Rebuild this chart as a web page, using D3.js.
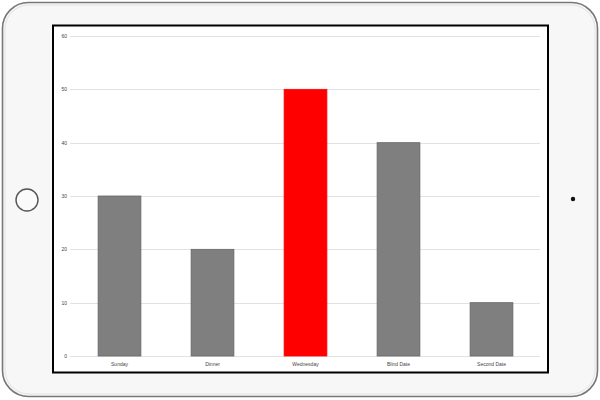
<!DOCTYPE html>
<html lang="en">

<head>
    <meta charset="UTF-8">
    <title>d3</title>
    <script src="https://cdn.jsdelivr.net/npm/d3@7/dist/d3.min.js"></script>
    <style>
        body {
            margin: 0;
            background: #fff;
        }

        .grid line {
            stroke: #e2e2e2;
            shape-rendering: crispEdges;
        }

        .grid path {
            display: none;
        }

        .axis text {
            font-family: "Liberation Sans", sans-serif;
            font-size: 5px;
            fill: #444;
        }

        .axis path,
        .axis line {
            display: none;
        }
    </style>
</head>

<body>
</body>

<script>
    const width = 600
    const height = 400

    // data
    const categories = ['Sunday', 'Dinner', 'Wednesday', 'Blind Date', 'Second Date']
    const values = [30, 20, 50, 40, 10]
    const highlight = 'Wednesday'
    const yTicks = [0, 10, 20, 30, 40, 50, 60]

    const svg = d3.select('body').append('svg').attr('width', width).attr('height', height)

    // tablet frame
    svg.append('rect')
        .attr('x', 2.5).attr('y', 2.5)
        .attr('width', 595).attr('height', 394)
        .attr('rx', 26)
        .attr('fill', '#f7f7f7')
        .attr('stroke', '#777')
        .attr('stroke-width', 1.6)
    svg.append('rect')
        .attr('x', 5).attr('y', 5)
        .attr('width', 590).attr('height', 389)
        .attr('rx', 24)
        .attr('fill', 'none')
        .attr('stroke', '#e2e2e2')
        .attr('stroke-width', 1)

    // home button + camera
    svg.append('circle')
        .attr('cx', 27).attr('cy', 200).attr('r', 11)
        .attr('fill', '#fafafa')
        .attr('stroke', '#555')
        .attr('stroke-width', 1.4)
    svg.append('circle')
        .attr('cx', 573).attr('cy', 199).attr('r', 2.2)
        .attr('fill', '#111')

    // screen
    svg.append('rect')
        .attr('x', 53).attr('y', 25.5)
        .attr('width', 495).attr('height', 347)
        .attr('fill', '#fff')
        .attr('stroke', '#000')
        .attr('stroke-width', 2)

    const margin = { left: 70, right: 540, top: 36, bottom: 356 }

    const x = d3.scaleBand()
        .domain(categories)
        .range([73, 538])
        .paddingInner(0.54)
        .paddingOuter(0.27)

    const y = d3.scaleLinear()
        .domain([0, 60])
        .range([margin.bottom, margin.top])

    svg.append('g')
        .attr('class', 'grid')
        .attr('transform', 'translate(' + margin.left + ',0)')
        .call(d3.axisLeft(y).tickValues(yTicks).tickSize(-(margin.right - margin.left)).tickFormat(''))

    svg.append('g')
        .attr('class', 'axis')
        .attr('transform', 'translate(' + (margin.left - 3) + ',0)')
        .call(d3.axisLeft(y).tickValues(yTicks).tickSize(0).tickPadding(0))

    svg.selectAll('.bar')
        .data(categories)
        .enter()
        .append('rect')
        .attr('class', 'bar')
        .attr('x', d => x(d))
        .attr('y', (d, i) => y(values[i]))
        .attr('width', x.bandwidth())
        .attr('height', (d, i) => y(0) - y(values[i]))
        .attr('fill', d => d === highlight ? '#ff0000' : '#7f7f7f')
        .attr('stroke', d => d === highlight ? '#ff0000' : '#666')
        .attr('stroke-width', 0.8)

    svg.append('g')
        .attr('class', 'axis')
        .attr('transform', 'translate(0,' + (margin.bottom + 3) + ')')
        .call(d3.axisBottom(x).tickSize(0).tickPadding(3))
</script>

</html>
